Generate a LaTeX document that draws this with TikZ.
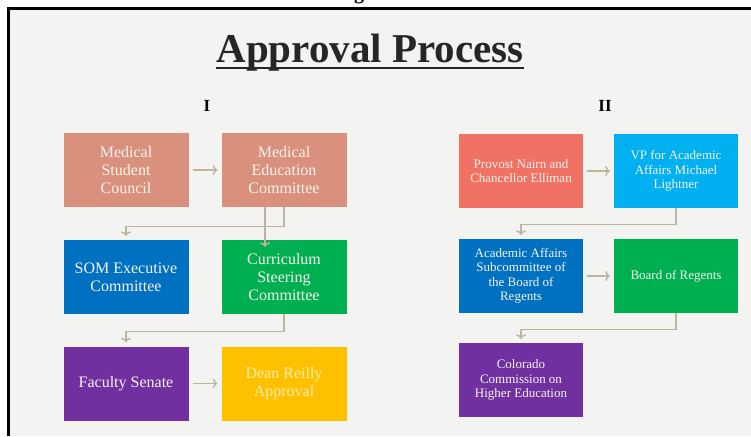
\documentclass[tikz,border=0pt]{standalone}
\usepackage{fontspec}
\setmainfont{Liberation Serif}
\usetikzlibrary{arrows, arrows.meta, positioning, calc}

\definecolor{salmonbox}{RGB}{217,144,125}
\definecolor{coralbox}{RGB}{240,114,100}
\definecolor{darkbluebox}{RGB}{0,112,192}
\definecolor{skybluebox}{RGB}{0,176,240}
\definecolor{greenbox}{RGB}{0,176,80}
\definecolor{purplebox}{RGB}{112,48,160}
\definecolor{goldbox}{RGB}{255,192,0}
\definecolor{linktan}{RGB}{190,180,158}
\definecolor{slidegray}{RGB}{243,243,241}
\definecolor{boxtext}{RGB}{247,243,236}
\definecolor{palegold}{RGB}{255,238,175}

\begin{document}
\begin{tikzpicture}[x=1pt, y=-1pt,
  box/.style={rectangle, minimum width=125pt, minimum height=74pt, inner sep=0pt, align=center, text=boxtext, font=\fontsize{16}{18}\selectfont},
  smallbox/.style={box, minimum width=124pt, font=\fontsize{13}{14.5}\selectfont},
  conn/.style={-{To[length=4.5pt, width=10pt]}, draw=linktan, line width=1.4pt, shorten >=4pt, shorten <=4pt}]

\useasboundingbox (0,0) rectangle (751,436);
%slide
\fill[white] (0,0) rectangle (751,436);
\fill[slidegray] (8.5,8.5) rectangle (751,436);
\draw[black, line width=2.5pt] (8.5,436) -- (8.5,8.5) -- (751,8.5);
\node[anchor=base, inner sep=0pt, font=\bfseries\fontsize{20}{20}\selectfont] (cut) at (359,0) {g};

%titles
\node[anchor=base, inner sep=0pt, text=black!85, font=\bfseries\fontsize{41}{41}\selectfont] (title) at (370,63) {Approval Process};
\draw[black!85, line width=2pt] ($(title.base west)+(0,5)$) -- ($(title.base east)+(0,5)$);
\node[font=\bfseries\fontsize{17}{17}\selectfont] (one) at (207,106) {I};
\node[font=\bfseries\fontsize{17}{17}\selectfont] (two) at (605,106) {II};

%nodes I
\node[box, fill=salmonbox] (msc) at (126,170) {Medical\\Student\\Council};
\node[box, fill=salmonbox] (mec) at (284,170) {Medical\\Education\\Committee};
\node[box, fill=darkbluebox] (som) at (126,277) {SOM Executive\\Committee};
\node[box, fill=greenbox] (csc) at (284,277) {Curriculum\\Steering\\Committee};
\node[box, fill=purplebox] (fs) at (126,383.5) {Faculty Senate};
\node[box, fill=goldbox, text=palegold] (dra) at (284,383.5) {Dean Reilly\\Approval};

%nodes II
\node[smallbox, fill=coralbox] (pnc) at (521,171) {Provost Nairn and\\Chancellor Elliman};
\node[smallbox, fill=skybluebox] (vpa) at (676,171) {VP for Academic\\Affairs Michael\\Lightner};
\node[smallbox, fill=darkbluebox] (aas) at (521,276) {Academic Affairs\\Subcommittee of\\the Board of\\Regents};
\node[smallbox, fill=greenbox] (bor) at (676,276) {Board of Regents};
\node[smallbox, fill=purplebox] (cche) at (521,380) {Colorado\\Commission on\\Higher Education};

%connections I
\draw[conn] (msc) -- (mec);
\draw[conn, shorten <=0pt] (mec.south) -- ++(0,19) -| (som.north);
\draw[conn, shorten <=0pt, shorten >=-7pt] ([xshift=-19pt]mec.south) -- ([xshift=-19pt]csc.north);
\draw[conn, shorten <=0pt] (csc.south) -- ++(0,17) -| (fs.north);
\draw[conn] (fs) -- (dra);

%connections II
\draw[conn] (pnc) -- (vpa);
\draw[conn, shorten <=0pt] (vpa.south) -- ++(0,16) -| (aas.north);
\draw[conn] (aas) -- (bor);
\draw[conn, shorten <=0pt] (bor.south) -- ++(0,16) -| (cche.north);
\end{tikzpicture}
\end{document}
